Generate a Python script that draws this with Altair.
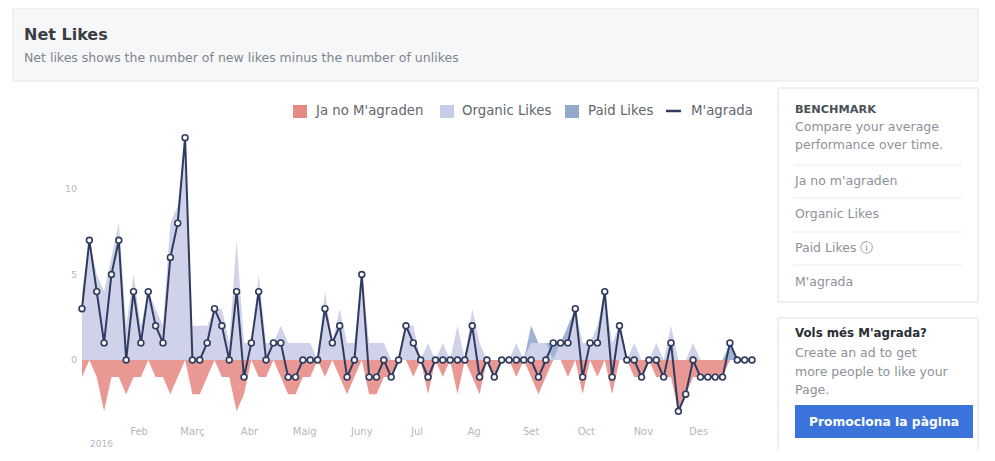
import altair as alt
import pandas as pd

FONT = "DejaVu Sans"

# ---- data ----
day = [4 * i for i in range(92)]  # every 4 days from 1 Jan 2016
net = [3, 7, 4, 1, 5, 7, 0, 4, 1, 4,
       2, 1, 6, 8, 13, 0, 0, 1, 3, 2,
       0, 4, -1, 1, 4, 0, 1, 1, -1, -1,
       0, 0, 0, 3, 1, 2, -1, 0, 5, -1,
       -1, 0, -1, 0, 2, 1, 0, -1, 0, 0,
       0, 0, 0, 2, -1, 0, -1, 0, 0, 0,
       0, 0, -1, 0, 1, 1, 1, 3, -1, 1,
       1, 4, -1, 2, 0, 0, -1, 0, 0, -1,
       1, -3, -2, 0, -1, -1, -1, -1, 1, 0,
       0, 0]
unlikes = [-1, 0, -1, -3, -1, -1, -2, -1, -1, 0,
           -1, -1, -2, -1, 0, -2, -2, -1, 0, -1,
           -1, -3, -2, 0, -1, -1, 0, -1, -2, -2,
           -1, -1, 0, -1, 0, -1, -2, -1, 0, -2,
           -2, -1, -1, 0, 0, -1, 0, -2, 0, -1,
           0, -2, 0, -1, -2, 0, -1, 0, 0, -1,
           0, -1, -2, -1, 0, 0, -1, 0, -2, 0,
           -1, 0, -2, 0, 0, -1, -1, 0, -1, -1,
           -1, -3, -2, -1, -1, -1, -1, -1, 0, 0,
           0, 0]
organic = [4, 7, 5, 4, 6, 8, 2, 5, 2, 4,
           3, 2, 8, 9, 13, 2, 2, 2, 3, 3,
           1, 7, 1, 1, 5, 1, 1, 2, 1, 1,
           1, 1, 0, 4, 1, 3, 1, 1, 5, 1,
           1, 1, 0, 0, 2, 2, 0, 1, 0, 1,
           0, 2, 0, 3, 1, 0, 0, 0, 0, 1,
           0, 1, 1, 1, 0, 1, 1, 3, 1, 1,
           2, 4, 1, 2, 0, 1, 0, 0, 1, 0,
           2, 0, 0, 1, 0, 0, 0, 0, 0, 0,
           0, 0]
paid = [0, 0, 0, 0, 0, 0, 0, 0, 0, 0,
        0, 0, 0, 0, 0, 0, 0, 0, 0, 0,
        0, 0, 0, 0, 0, 0, 0, 0, 0, 0,
        0, 0, 0, 0, 0, 0, 0, 0, 0, 0,
        0, 0, 0, 0, 0, 0, 0, 0, 0, 0,
        0, 0, 0, 0, 0, 0, 0, 0, 0, 0,
        0, 1, 0, 0, 1, 0, 1, 0, 0, 0,
        0, 0, 0, 0, 0, 0, 0, 0, 0, 0,
        0, 0, 0, 0, 0, 0, 0, 0, 1, 0,
        0, 0]
month_days = [31, 60, 91, 121, 152, 182, 213, 244, 274, 305, 335]
month_labels = ["Feb", "Març", "Abr", "Maig", "Juny", "Jul", "Ag", "Set", "Oct", "Nov", "Des"]
y_ticks = [0, 5, 10]

series_names = ["Ja no M'agraden", "Organic Likes", "Paid Likes"]
RED = "#e68a85"
LAV = "#c9cce6"
BLUE = "#93a9cc"
NAVY = "#2f3b5f"
AXIS_GREY = "#b4b8bf"
TEXT_GREY = "#8d9199"
LEG_GREY = "#62666e"

rows = []
for i, d in enumerate(day):
    rows.append({"day": d, "series": series_names[0], "value": unlikes[i], "ord": 0})
    rows.append({"day": d, "series": series_names[1], "value": organic[i], "ord": 1})
    rows.append({"day": d, "series": series_names[2], "value": paid[i], "ord": 2})
area_df = pd.DataFrame(rows)
line_df = pd.DataFrame({"day": day, "net": net})
month_df = pd.DataFrame({"day": month_days, "label": month_labels})
ytick_df = pd.DataFrame({"v": y_ticks})

# page-pixel helpers (chart origin sits at page (8, 8))
OX, OY = 8, 8
xs = alt.Scale(domain=[0, 364], range=[82 - OX, 752 - OX])
ys = alt.Scale(domain=[-5, 15], range=[360 - OY + 5 * 17.1, 360 - OY - 15 * 17.1])

base = alt.Chart(pd.DataFrame({"k": [0]}))


def rect(x1, y1, x2, y2, fill, stroke=None, sw=1):
    kw = {"fill": fill}
    if stroke:
        kw["stroke"] = stroke
        kw["strokeWidth"] = sw
    return base.mark_rect(**kw).encode(
        x=alt.value(x1 - OX), x2=alt.value(x2 - OX),
        y=alt.value(y1 - OY), y2=alt.value(y2 - OY))


def hline(x1, x2, y, color, sw=1):
    return base.mark_rule(color=color, strokeWidth=sw).encode(
        x=alt.value(x1 - OX), x2=alt.value(x2 - OX), y=alt.value(y - OY))


def text(x, y, s, size, color, weight="normal", align="left"):
    return base.mark_text(text=s, fontSize=size, color=color, fontWeight=weight,
                          align=align, baseline="middle", font=FONT).encode(
        x=alt.value(x - OX), y=alt.value(y - OY))


deco = [
    # header
    rect(13, 8, 978, 81, "#f6f7f9", "#e4e6ea"),
    text(24, 35, "Net Likes", 16, "#3a3d44", "bold"),
    text(24, 58, "Net likes shows the number of new likes minus the number of unlikes", 12.5, "#80848c"),
    # legend
    rect(293, 105, 307, 118, RED),
    text(316, 111, "Ja no M'agraden", 13.3, LEG_GREY),
    rect(440, 105, 454, 118, LAV),
    text(462, 111, "Organic Likes", 13.3, LEG_GREY),
    rect(565, 105, 579, 118, BLUE),
    text(588, 111, "Paid Likes", 13.3, LEG_GREY),
    hline(666, 681, 111, NAVY, 2.5),
    text(691, 111, "M'agrada", 13.3, LEG_GREY),
    # sidebar box 1
    rect(778, 88, 978, 302, "white", "#dddfe2"),
    text(795, 110, "BENCHMARK", 11.3, "#4b4f56", "bold"),
    text(795, 127, "Compare your average", 12.5, TEXT_GREY),
    text(795, 145, "performance over time.", 12.5, TEXT_GREY),
    hline(793, 962, 165, "#e9ebee"),
    text(795, 181, "Ja no m'agraden", 12.5, TEXT_GREY),
    hline(793, 962, 198, "#e9ebee"),
    text(795, 214, "Organic Likes", 12.5, TEXT_GREY),
    hline(793, 962, 232, "#e9ebee"),
    text(795, 248, "Paid Likes \u24d8", 12.5, TEXT_GREY),
    hline(793, 962, 265, "#e9ebee"),
    text(795, 282, "M'agrada", 12.5, TEXT_GREY),
    # sidebar box 2
    rect(778, 318, 978, 470, "white", "#dddfe2"),
    text(795, 333, "Vols més M'agrada?", 11.8, "#2a2d33", "bold"),
    text(795, 353, "Create an ad to get", 12.5, TEXT_GREY),
    text(795, 372, "more people to like your", 12.5, TEXT_GREY),
    text(795, 390, "Page.", 12.5, TEXT_GREY),
    rect(795, 405, 973, 438, "#3a74db"),
    text(884, 422, "Promociona la pàgina", 12.3, "white", "bold", "center"),
    # year label
    text(90, 444, "2016", 9, AXIS_GREY),
]

areas = alt.Chart(area_df).mark_area(opacity=0.88, interpolate="linear").encode(
    x=alt.X("day:Q", scale=xs, axis=None),
    y=alt.Y("value:Q", scale=ys, axis=None, stack="zero"),
    color=alt.Color("series:N", scale=alt.Scale(domain=series_names, range=[RED, LAV, BLUE]), legend=None),
    order=alt.Order("ord:Q"),
)

line = alt.Chart(line_df).mark_line(color=NAVY, strokeWidth=2).encode(
    x=alt.X("day:Q", scale=xs, axis=None),
    y=alt.Y("net:Q", scale=ys, axis=None),
)

points = alt.Chart(line_df).mark_circle(fill="white", stroke=NAVY, strokeWidth=1.6, size=34, opacity=1).encode(
    x=alt.X("day:Q", scale=xs, axis=None),
    y=alt.Y("net:Q", scale=ys, axis=None),
)

ylabels = alt.Chart(ytick_df).mark_text(align="right", baseline="middle", fontSize=9.5, color=AXIS_GREY, font=FONT).encode(
    y=alt.Y("v:Q", scale=ys, axis=None),
    x=alt.value(77 - OX),
    text="v:Q",
)

xlabels = alt.Chart(month_df).mark_text(align="center", baseline="middle", fontSize=10, color=AXIS_GREY, font=FONT).encode(
    x=alt.X("day:Q", scale=xs, axis=None),
    y=alt.value(432 - OY),
    text="label:N",
)

chart = alt.layer(*deco, areas, line, points, ylabels, xlabels).properties(
    width=979, height=442,
    autosize=alt.AutoSizeParams(type="none"),
    padding=0,
    background="white",
).configure_view(stroke=None)

chart.save("out.html", embed_options={"renderer": "svg", "actions": False})
